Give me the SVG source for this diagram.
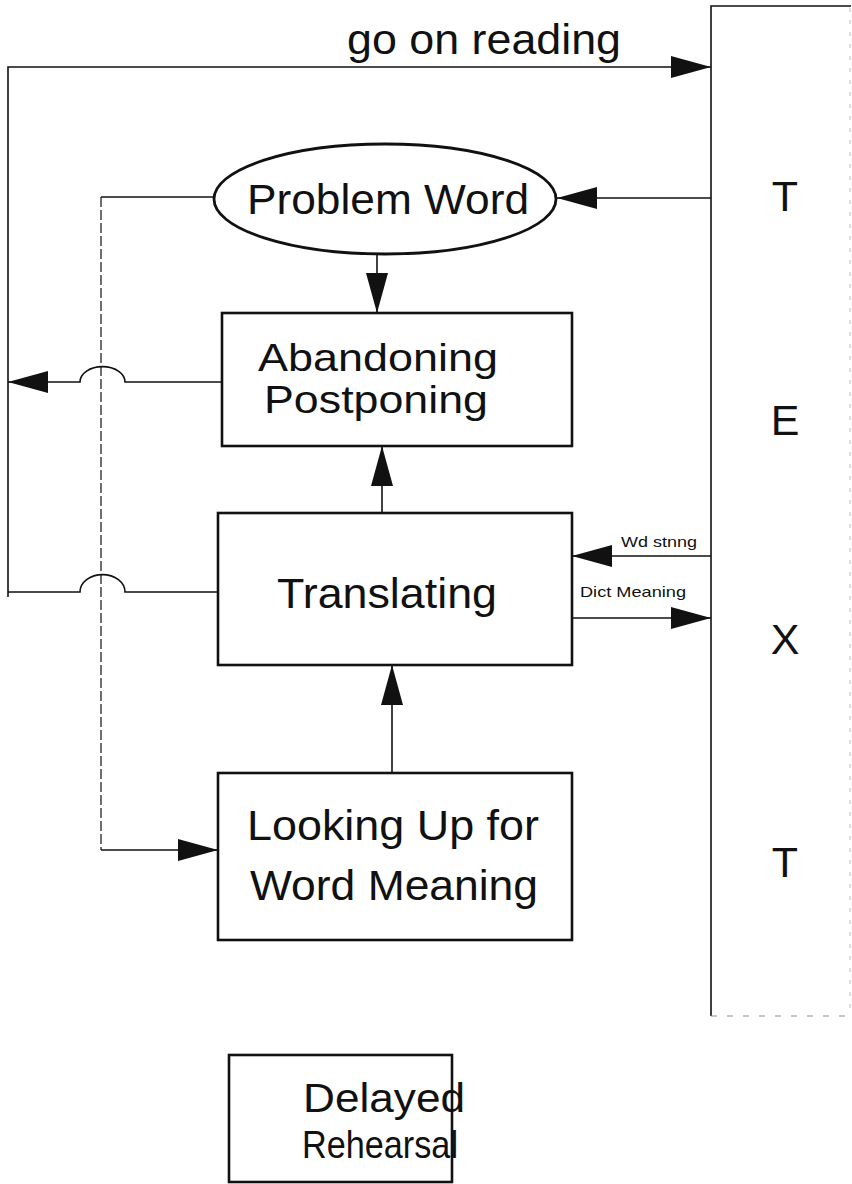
<svg xmlns="http://www.w3.org/2000/svg" width="852" height="1184" viewBox="0 0 852 1184">
  <style>
    .box { fill: #fff; stroke: #111; stroke-width: 2.6; }
    .lbl { font-family: "Liberation Sans", Arial, sans-serif; fill: #111; text-anchor: middle; }
    .big { font-size: 43px; }
    .mid { font-size: 39px; }
    .small { font-size: 15px; text-anchor: start; }
    .wire { fill: none; stroke: #111; stroke-width: 1.6; }
    .thin { fill: none; stroke: #222; stroke-width: 1.3; stroke-dasharray: 10 3; }
  </style>
  <defs>
    <marker id="arrow" viewBox="0 0 40 22" refX="40" refY="11" markerWidth="40" markerHeight="22" markerUnits="userSpaceOnUse" orient="auto">
      <path d="M0,0 L40,11 L0,22 Z" fill="#111"/>
    </marker>
  </defs>

  <rect width="852" height="1184" fill="#fff"/>

  <!-- TEXT column on the right -->
  <g id="text-column">
    <path d="M711,1016 V6 H851" class="wire" stroke-width="2"/>
    <path d="M850,8 V1016" fill="none" stroke="#bbb" stroke-width="1" stroke-dasharray="4 8"/>
    <path d="M711,1016 H852" fill="none" stroke="#888" stroke-width="1.2" stroke-dasharray="6 10"/>
    <text class="lbl big" x="785" y="211">T</text>
    <text class="lbl big" x="785" y="435">E</text>
    <text class="lbl big" x="785" y="654">X</text>
    <text class="lbl big" x="785" y="877">T</text>
  </g>

  <!-- Connectors -->
  <g id="connectors">
    <!-- go on reading loop -->
    <path class="wire" d="M8,597 V67 H711" marker-end="url(#arrow)"/>
    <text class="lbl big" x="484" y="54" textLength="274" lengthAdjust="spacingAndGlyphs">go on reading</text>
    <!-- TEXT to Problem Word -->
    <path class="wire" d="M711,198 H557" marker-end="url(#arrow)"/>
    <!-- Problem Word to Abandoning -->
    <path class="wire" d="M377,254 V313" marker-end="url(#arrow)"/>
    <!-- Problem Word to Looking Up -->
    <path class="wire" d="M214,197 H101"/>
    <path class="thin" d="M101,197 V850"/>
    <path class="wire" d="M101,850 H218" marker-end="url(#arrow)"/>
    <!-- Abandoning back out to left -->
    <path class="wire" d="M222,382 H125 A22 15 0 0 0 80,382 H8" marker-end="url(#arrow)"/>
    <!-- Translating to Abandoning -->
    <path class="wire" d="M382,513 V446" marker-end="url(#arrow)"/>
    <!-- Translating back to the loop -->
    <path class="wire" d="M218,592 H125 A22 17 0 0 0 80,592 H8"/>
    <!-- Word string into Translating -->
    <path class="wire" d="M711,556 H572" marker-end="url(#arrow)"/>
    <text class="lbl small" x="621" y="547" textLength="76" lengthAdjust="spacingAndGlyphs">Wd stnng</text>
    <!-- Dictionary meaning out to TEXT -->
    <path class="wire" d="M572,618 H711" marker-end="url(#arrow)"/>
    <text class="lbl small" x="580" y="597" textLength="106" lengthAdjust="spacingAndGlyphs">Dict Meaning</text>
    <!-- Looking Up to Translating -->
    <path class="wire" d="M392,773 V665" marker-end="url(#arrow)"/>
  </g>

  <g id="problem-word">
    <ellipse cx="385" cy="199" rx="171" ry="55" fill="#fff" stroke="#111" stroke-width="2.8"/>
    <text class="lbl big" x="388" y="214" textLength="282" lengthAdjust="spacingAndGlyphs">Problem Word</text>
  </g>

  <g id="abandoning">
    <rect class="box" x="222" y="313" width="350" height="133"/>
    <text class="lbl mid" x="378" y="371" textLength="240" lengthAdjust="spacingAndGlyphs">Abandoning</text>
    <text class="lbl mid" x="376" y="413" textLength="224" lengthAdjust="spacingAndGlyphs">Postponing</text>
  </g>

  <g id="translating">
    <rect class="box" x="218" y="513" width="354" height="152"/>
    <text class="lbl big" x="387" y="608" textLength="220" lengthAdjust="spacingAndGlyphs">Translating</text>
  </g>

  <g id="looking-up">
    <rect class="box" x="218" y="773" width="354" height="167"/>
    <text class="lbl big" x="393" y="840" textLength="292" lengthAdjust="spacingAndGlyphs">Looking Up for</text>
    <text class="lbl big" x="394" y="900" textLength="288" lengthAdjust="spacingAndGlyphs">Word Meaning</text>
  </g>

  <g id="delayed-rehearsal">
    <rect class="box" x="229" y="1055" width="223" height="127"/>
    <text class="lbl" x="384" y="1112" style="font-size:41px" textLength="162" lengthAdjust="spacingAndGlyphs">Delayed</text>
    <text class="lbl" x="380" y="1158" style="font-size:39px" textLength="156" lengthAdjust="spacingAndGlyphs">Rehearsal</text>
  </g>
</svg>
